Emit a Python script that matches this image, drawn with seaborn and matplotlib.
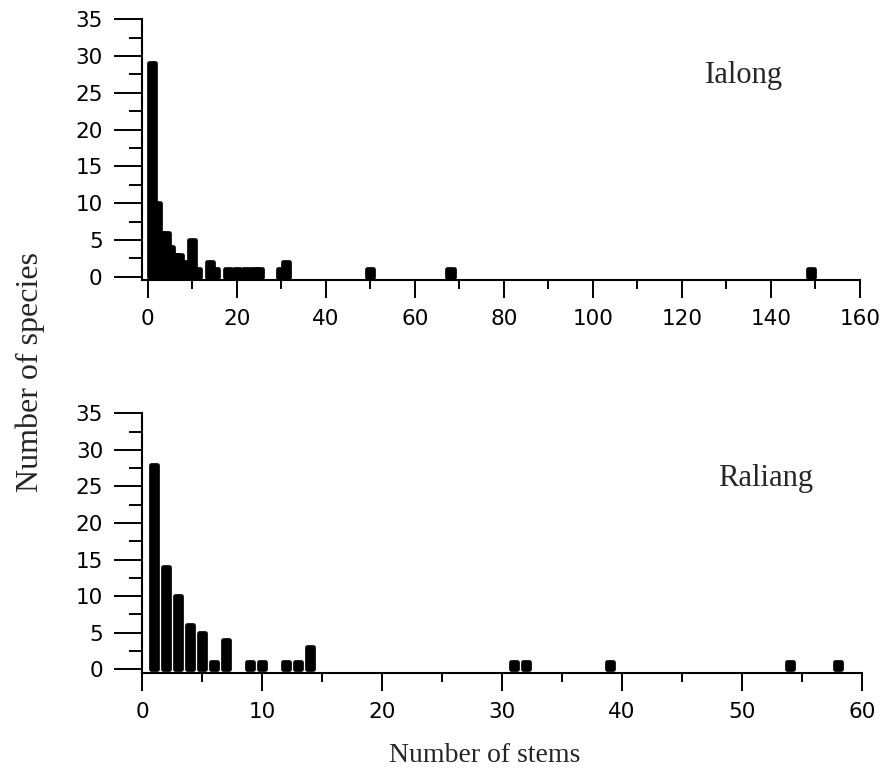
"""
Stem-count distributions for the Ialong and Raliang plots:
how many species are represented by a given number of stems.
"""

import matplotlib
matplotlib.use("Agg")  # headless-safe backend
import matplotlib.pyplot as plt
from matplotlib.ticker import MultipleLocator
import pandas as pd
import seaborn as sns

# Ialong: number of stems -> number of species
IALONG_STEMS = [1, 2, 3, 4, 5, 6, 7, 8, 10, 11, 14, 15, 18, 20, 22, 24, 25, 30, 31, 50, 68, 149]
IALONG_SPECIES = [29, 10, 6, 6, 4, 3, 3, 2, 5, 1, 2, 1, 1, 1, 1, 1, 1, 1, 2, 1, 1, 1]

# Raliang: number of stems -> number of species
RALIANG_STEMS = [1, 2, 3, 4, 5, 6, 7, 9, 10, 12, 13, 14, 31, 32, 39, 54, 58]
RALIANG_SPECIES = [28, 14, 10, 6, 5, 1, 4, 1, 1, 1, 1, 3, 1, 1, 1, 1, 1]

W, H = 892, 769

sns.set_style("ticks")
plt.rcParams["font.family"] = ["DejaVu Sans"]
plt.rcParams["axes.edgecolor"] = "black"
plt.rcParams["xtick.color"] = "black"
plt.rcParams["ytick.color"] = "black"
SERIF = ["Liberation Serif", "DejaVu Serif"]


def px_axes(fig, left, top, right, bottom):
    return fig.add_axes([left / W, 1 - bottom / H, (right - left) / W, (bottom - top) / H])


def draw_panel(ax, stems, species, width, xlim, xmajor, ylim, name, name_xy):
    df = pd.DataFrame({"stems": stems, "species": species})
    sns.barplot(data=df, x="stems", y="species", native_scale=True, width=width,
                color="black", saturation=1, errorbar=None, ax=ax,
                linewidth=3.4, edgecolor="black")
    for bar in ax.patches:
        bar.set_joinstyle("round")

    ax.set_xlim(*xlim)
    ax.set_ylim(*ylim)
    ax.xaxis.set_major_locator(MultipleLocator(xmajor))
    ax.xaxis.set_minor_locator(MultipleLocator(xmajor / 2))
    ax.yaxis.set_major_locator(MultipleLocator(5))
    ax.yaxis.set_minor_locator(MultipleLocator(2.5))
    ax.set_xlabel("")
    ax.set_ylabel("")

    sns.despine(ax=ax)
    for side in ["left", "bottom"]:
        ax.spines[side].set_linewidth(1.5)
    ax.tick_params(axis="y", which="major", length=20, width=1.4, pad=8, labelsize=15.5)
    ax.tick_params(axis="y", which="minor", length=9.5, width=1.4)
    ax.tick_params(axis="x", which="major", length=13, width=1.4, pad=8, labelsize=15.5)
    ax.tick_params(axis="x", which="minor", length=6.5, width=1.4)

    ax.text(name_xy[0], name_xy[1], name, ha="center", va="baseline",
            fontsize=22, family=SERIF)


def main():
    fig = plt.figure(figsize=(W / 100, H / 100), dpi=100)

    ax_top = px_axes(fig, 141.5, 19.3, 860, 280)
    draw_panel(ax_top, IALONG_STEMS, IALONG_SPECIES, 1.4, (-1.4, 160), 20,
               (-0.45, 35), "Ialong", (134, 26.3))

    ax_bot = px_axes(fig, 142, 413.3, 862, 673)
    draw_panel(ax_bot, RALIANG_STEMS, RALIANG_SPECIES, 0.52, (0, 60), 10,
               (-0.5, 35), "Raliang", (52, 25.1))

    fig.text(30 / W, 1 - 372 / H, "Number of species", rotation=90,
             ha="center", va="center", fontsize=23, family=SERIF)
    fig.text(485 / W, 1 - 762 / H, "Number of stems", ha="center", va="baseline",
             fontsize=20, family=SERIF)

    fig.savefig("out.png", dpi=100)
    plt.close(fig)


if __name__ == "__main__":
    main()
